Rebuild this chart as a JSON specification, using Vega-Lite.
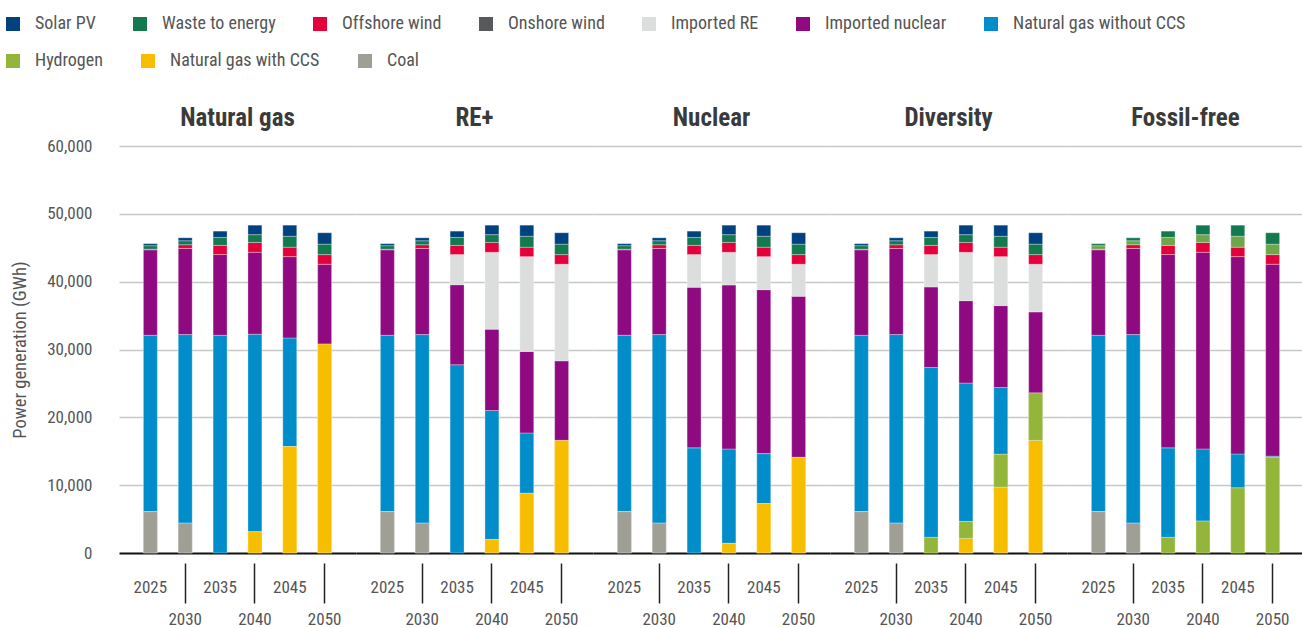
{
  "$schema": "https://vega.github.io/schema/vega-lite/v6.json",
  "padding": {"left": 4, "top": 15, "right": 0, "bottom": 0},
  "background": "white",
  "datasets": {
    "stackorder": [
      {"source": "Coal", "rank": 1},
      {"source": "Natural gas with CCS", "rank": 2},
      {"source": "Hydrogen", "rank": 3},
      {"source": "Natural gas without CCS", "rank": 4},
      {"source": "Imported nuclear", "rank": 5},
      {"source": "Imported RE", "rank": 6},
      {"source": "Onshore wind", "rank": 7},
      {"source": "Offshore wind", "rank": 8},
      {"source": "Waste to energy", "rank": 9},
      {"source": "Solar PV", "rank": 10}
    ],
    "gen": [
      {"scenario": "Natural gas", "year": "2025", "source": "Coal", "value": 6100},
      {"scenario": "Natural gas", "year": "2025", "source": "Natural gas without CCS", "value": 26000},
      {"scenario": "Natural gas", "year": "2025", "source": "Imported nuclear", "value": 12600},
      {"scenario": "Natural gas", "year": "2025", "source": "Onshore wind", "value": 80},
      {"scenario": "Natural gas", "year": "2025", "source": "Waste to energy", "value": 520},
      {"scenario": "Natural gas", "year": "2025", "source": "Solar PV", "value": 300},
      {"scenario": "Natural gas", "year": "2030", "source": "Coal", "value": 4400},
      {"scenario": "Natural gas", "year": "2030", "source": "Natural gas without CCS", "value": 27800},
      {"scenario": "Natural gas", "year": "2030", "source": "Imported nuclear", "value": 12700},
      {"scenario": "Natural gas", "year": "2030", "source": "Offshore wind", "value": 540},
      {"scenario": "Natural gas", "year": "2030", "source": "Waste to energy", "value": 590},
      {"scenario": "Natural gas", "year": "2030", "source": "Solar PV", "value": 440},
      {"scenario": "Natural gas", "year": "2035", "source": "Natural gas without CCS", "value": 32100},
      {"scenario": "Natural gas", "year": "2035", "source": "Imported nuclear", "value": 11900},
      {"scenario": "Natural gas", "year": "2035", "source": "Offshore wind", "value": 1340},
      {"scenario": "Natural gas", "year": "2035", "source": "Waste to energy", "value": 1180},
      {"scenario": "Natural gas", "year": "2035", "source": "Solar PV", "value": 930},
      {"scenario": "Natural gas", "year": "2040", "source": "Natural gas with CCS", "value": 3150},
      {"scenario": "Natural gas", "year": "2040", "source": "Natural gas without CCS", "value": 29100},
      {"scenario": "Natural gas", "year": "2040", "source": "Imported nuclear", "value": 12080},
      {"scenario": "Natural gas", "year": "2040", "source": "Offshore wind", "value": 1450},
      {"scenario": "Natural gas", "year": "2040", "source": "Waste to energy", "value": 1150},
      {"scenario": "Natural gas", "year": "2040", "source": "Solar PV", "value": 1400},
      {"scenario": "Natural gas", "year": "2045", "source": "Natural gas with CCS", "value": 15700},
      {"scenario": "Natural gas", "year": "2045", "source": "Natural gas without CCS", "value": 16000},
      {"scenario": "Natural gas", "year": "2045", "source": "Imported nuclear", "value": 11990},
      {"scenario": "Natural gas", "year": "2045", "source": "Offshore wind", "value": 1390},
      {"scenario": "Natural gas", "year": "2045", "source": "Waste to energy", "value": 1620},
      {"scenario": "Natural gas", "year": "2045", "source": "Solar PV", "value": 1630},
      {"scenario": "Natural gas", "year": "2050", "source": "Natural gas with CCS", "value": 30800},
      {"scenario": "Natural gas", "year": "2050", "source": "Imported nuclear", "value": 11770},
      {"scenario": "Natural gas", "year": "2050", "source": "Offshore wind", "value": 1420},
      {"scenario": "Natural gas", "year": "2050", "source": "Waste to energy", "value": 1540},
      {"scenario": "Natural gas", "year": "2050", "source": "Solar PV", "value": 1680},

      {"scenario": "RE+", "year": "2025", "source": "Coal", "value": 6100},
      {"scenario": "RE+", "year": "2025", "source": "Natural gas without CCS", "value": 26000},
      {"scenario": "RE+", "year": "2025", "source": "Imported nuclear", "value": 12600},
      {"scenario": "RE+", "year": "2025", "source": "Onshore wind", "value": 80},
      {"scenario": "RE+", "year": "2025", "source": "Waste to energy", "value": 520},
      {"scenario": "RE+", "year": "2025", "source": "Solar PV", "value": 300},
      {"scenario": "RE+", "year": "2030", "source": "Coal", "value": 4400},
      {"scenario": "RE+", "year": "2030", "source": "Natural gas without CCS", "value": 27800},
      {"scenario": "RE+", "year": "2030", "source": "Imported nuclear", "value": 12700},
      {"scenario": "RE+", "year": "2030", "source": "Offshore wind", "value": 540},
      {"scenario": "RE+", "year": "2030", "source": "Waste to energy", "value": 590},
      {"scenario": "RE+", "year": "2030", "source": "Solar PV", "value": 440},
      {"scenario": "RE+", "year": "2035", "source": "Natural gas without CCS", "value": 27750},
      {"scenario": "RE+", "year": "2035", "source": "Imported nuclear", "value": 11800},
      {"scenario": "RE+", "year": "2035", "source": "Imported RE", "value": 4450},
      {"scenario": "RE+", "year": "2035", "source": "Offshore wind", "value": 1340},
      {"scenario": "RE+", "year": "2035", "source": "Waste to energy", "value": 1180},
      {"scenario": "RE+", "year": "2035", "source": "Solar PV", "value": 930},
      {"scenario": "RE+", "year": "2040", "source": "Natural gas with CCS", "value": 2000},
      {"scenario": "RE+", "year": "2040", "source": "Natural gas without CCS", "value": 19000},
      {"scenario": "RE+", "year": "2040", "source": "Imported nuclear", "value": 12000},
      {"scenario": "RE+", "year": "2040", "source": "Imported RE", "value": 11330},
      {"scenario": "RE+", "year": "2040", "source": "Offshore wind", "value": 1450},
      {"scenario": "RE+", "year": "2040", "source": "Waste to energy", "value": 1150},
      {"scenario": "RE+", "year": "2040", "source": "Solar PV", "value": 1400},
      {"scenario": "RE+", "year": "2045", "source": "Natural gas with CCS", "value": 8800},
      {"scenario": "RE+", "year": "2045", "source": "Natural gas without CCS", "value": 8900},
      {"scenario": "RE+", "year": "2045", "source": "Imported nuclear", "value": 12000},
      {"scenario": "RE+", "year": "2045", "source": "Imported RE", "value": 13990},
      {"scenario": "RE+", "year": "2045", "source": "Offshore wind", "value": 1390},
      {"scenario": "RE+", "year": "2045", "source": "Waste to energy", "value": 1620},
      {"scenario": "RE+", "year": "2045", "source": "Solar PV", "value": 1630},
      {"scenario": "RE+", "year": "2050", "source": "Natural gas with CCS", "value": 16600},
      {"scenario": "RE+", "year": "2050", "source": "Imported nuclear", "value": 11730},
      {"scenario": "RE+", "year": "2050", "source": "Imported RE", "value": 14240},
      {"scenario": "RE+", "year": "2050", "source": "Offshore wind", "value": 1420},
      {"scenario": "RE+", "year": "2050", "source": "Waste to energy", "value": 1540},
      {"scenario": "RE+", "year": "2050", "source": "Solar PV", "value": 1680},

      {"scenario": "Nuclear", "year": "2025", "source": "Coal", "value": 6100},
      {"scenario": "Nuclear", "year": "2025", "source": "Natural gas without CCS", "value": 26000},
      {"scenario": "Nuclear", "year": "2025", "source": "Imported nuclear", "value": 12600},
      {"scenario": "Nuclear", "year": "2025", "source": "Onshore wind", "value": 80},
      {"scenario": "Nuclear", "year": "2025", "source": "Waste to energy", "value": 520},
      {"scenario": "Nuclear", "year": "2025", "source": "Solar PV", "value": 300},
      {"scenario": "Nuclear", "year": "2030", "source": "Coal", "value": 4400},
      {"scenario": "Nuclear", "year": "2030", "source": "Natural gas without CCS", "value": 27800},
      {"scenario": "Nuclear", "year": "2030", "source": "Imported nuclear", "value": 12700},
      {"scenario": "Nuclear", "year": "2030", "source": "Offshore wind", "value": 540},
      {"scenario": "Nuclear", "year": "2030", "source": "Waste to energy", "value": 590},
      {"scenario": "Nuclear", "year": "2030", "source": "Solar PV", "value": 440},
      {"scenario": "Nuclear", "year": "2035", "source": "Natural gas without CCS", "value": 15500},
      {"scenario": "Nuclear", "year": "2035", "source": "Imported nuclear", "value": 23670},
      {"scenario": "Nuclear", "year": "2035", "source": "Imported RE", "value": 4830},
      {"scenario": "Nuclear", "year": "2035", "source": "Offshore wind", "value": 1340},
      {"scenario": "Nuclear", "year": "2035", "source": "Waste to energy", "value": 1180},
      {"scenario": "Nuclear", "year": "2035", "source": "Solar PV", "value": 930},
      {"scenario": "Nuclear", "year": "2040", "source": "Natural gas with CCS", "value": 1420},
      {"scenario": "Nuclear", "year": "2040", "source": "Natural gas without CCS", "value": 13920},
      {"scenario": "Nuclear", "year": "2040", "source": "Imported nuclear", "value": 24170},
      {"scenario": "Nuclear", "year": "2040", "source": "Imported RE", "value": 4820},
      {"scenario": "Nuclear", "year": "2040", "source": "Offshore wind", "value": 1450},
      {"scenario": "Nuclear", "year": "2040", "source": "Waste to energy", "value": 1150},
      {"scenario": "Nuclear", "year": "2040", "source": "Solar PV", "value": 1400},
      {"scenario": "Nuclear", "year": "2045", "source": "Natural gas with CCS", "value": 7300},
      {"scenario": "Nuclear", "year": "2045", "source": "Natural gas without CCS", "value": 7350},
      {"scenario": "Nuclear", "year": "2045", "source": "Imported nuclear", "value": 24170},
      {"scenario": "Nuclear", "year": "2045", "source": "Imported RE", "value": 4870},
      {"scenario": "Nuclear", "year": "2045", "source": "Offshore wind", "value": 1390},
      {"scenario": "Nuclear", "year": "2045", "source": "Waste to energy", "value": 1620},
      {"scenario": "Nuclear", "year": "2045", "source": "Solar PV", "value": 1630},
      {"scenario": "Nuclear", "year": "2050", "source": "Natural gas with CCS", "value": 14100},
      {"scenario": "Nuclear", "year": "2050", "source": "Imported nuclear", "value": 23740},
      {"scenario": "Nuclear", "year": "2050", "source": "Imported RE", "value": 4730},
      {"scenario": "Nuclear", "year": "2050", "source": "Offshore wind", "value": 1420},
      {"scenario": "Nuclear", "year": "2050", "source": "Waste to energy", "value": 1540},
      {"scenario": "Nuclear", "year": "2050", "source": "Solar PV", "value": 1680},

      {"scenario": "Diversity", "year": "2025", "source": "Coal", "value": 6100},
      {"scenario": "Diversity", "year": "2025", "source": "Natural gas without CCS", "value": 26000},
      {"scenario": "Diversity", "year": "2025", "source": "Imported nuclear", "value": 12600},
      {"scenario": "Diversity", "year": "2025", "source": "Onshore wind", "value": 80},
      {"scenario": "Diversity", "year": "2025", "source": "Waste to energy", "value": 520},
      {"scenario": "Diversity", "year": "2025", "source": "Solar PV", "value": 300},
      {"scenario": "Diversity", "year": "2030", "source": "Coal", "value": 4400},
      {"scenario": "Diversity", "year": "2030", "source": "Natural gas without CCS", "value": 27800},
      {"scenario": "Diversity", "year": "2030", "source": "Imported nuclear", "value": 12700},
      {"scenario": "Diversity", "year": "2030", "source": "Offshore wind", "value": 540},
      {"scenario": "Diversity", "year": "2030", "source": "Waste to energy", "value": 590},
      {"scenario": "Diversity", "year": "2030", "source": "Solar PV", "value": 440},
      {"scenario": "Diversity", "year": "2035", "source": "Hydrogen", "value": 2300},
      {"scenario": "Diversity", "year": "2035", "source": "Natural gas without CCS", "value": 25050},
      {"scenario": "Diversity", "year": "2035", "source": "Imported nuclear", "value": 11870},
      {"scenario": "Diversity", "year": "2035", "source": "Imported RE", "value": 4780},
      {"scenario": "Diversity", "year": "2035", "source": "Offshore wind", "value": 1340},
      {"scenario": "Diversity", "year": "2035", "source": "Waste to energy", "value": 1180},
      {"scenario": "Diversity", "year": "2035", "source": "Solar PV", "value": 930},
      {"scenario": "Diversity", "year": "2040", "source": "Natural gas with CCS", "value": 2150},
      {"scenario": "Diversity", "year": "2040", "source": "Hydrogen", "value": 2500},
      {"scenario": "Diversity", "year": "2040", "source": "Natural gas without CCS", "value": 20400},
      {"scenario": "Diversity", "year": "2040", "source": "Imported nuclear", "value": 12150},
      {"scenario": "Diversity", "year": "2040", "source": "Imported RE", "value": 7130},
      {"scenario": "Diversity", "year": "2040", "source": "Offshore wind", "value": 1450},
      {"scenario": "Diversity", "year": "2040", "source": "Waste to energy", "value": 1150},
      {"scenario": "Diversity", "year": "2040", "source": "Solar PV", "value": 1400},
      {"scenario": "Diversity", "year": "2045", "source": "Natural gas with CCS", "value": 9700},
      {"scenario": "Diversity", "year": "2045", "source": "Hydrogen", "value": 4850},
      {"scenario": "Diversity", "year": "2045", "source": "Natural gas without CCS", "value": 9850},
      {"scenario": "Diversity", "year": "2045", "source": "Imported nuclear", "value": 12070},
      {"scenario": "Diversity", "year": "2045", "source": "Imported RE", "value": 7220},
      {"scenario": "Diversity", "year": "2045", "source": "Offshore wind", "value": 1390},
      {"scenario": "Diversity", "year": "2045", "source": "Waste to energy", "value": 1620},
      {"scenario": "Diversity", "year": "2045", "source": "Solar PV", "value": 1630},
      {"scenario": "Diversity", "year": "2050", "source": "Natural gas with CCS", "value": 16600},
      {"scenario": "Diversity", "year": "2050", "source": "Hydrogen", "value": 7000},
      {"scenario": "Diversity", "year": "2050", "source": "Imported nuclear", "value": 11940},
      {"scenario": "Diversity", "year": "2050", "source": "Imported RE", "value": 7030},
      {"scenario": "Diversity", "year": "2050", "source": "Offshore wind", "value": 1420},
      {"scenario": "Diversity", "year": "2050", "source": "Waste to energy", "value": 1540},
      {"scenario": "Diversity", "year": "2050", "source": "Solar PV", "value": 1680},

      {"scenario": "Fossil-free", "year": "2025", "source": "Coal", "value": 6100},
      {"scenario": "Fossil-free", "year": "2025", "source": "Natural gas without CCS", "value": 26000},
      {"scenario": "Fossil-free", "year": "2025", "source": "Imported nuclear", "value": 12600},
      {"scenario": "Fossil-free", "year": "2025", "source": "Onshore wind", "value": 80},
      {"scenario": "Fossil-free", "year": "2025", "source": "Waste to energy", "value": 520},
      {"scenario": "Fossil-free", "year": "2025", "source": "Solar PV", "value": 300},
      {"scenario": "Fossil-free", "year": "2030", "source": "Coal", "value": 4400},
      {"scenario": "Fossil-free", "year": "2030", "source": "Natural gas without CCS", "value": 27800},
      {"scenario": "Fossil-free", "year": "2030", "source": "Imported nuclear", "value": 12700},
      {"scenario": "Fossil-free", "year": "2030", "source": "Offshore wind", "value": 540},
      {"scenario": "Fossil-free", "year": "2030", "source": "Waste to energy", "value": 590},
      {"scenario": "Fossil-free", "year": "2030", "source": "Solar PV", "value": 440},
      {"scenario": "Fossil-free", "year": "2035", "source": "Hydrogen", "value": 2300},
      {"scenario": "Fossil-free", "year": "2035", "source": "Natural gas without CCS", "value": 13200},
      {"scenario": "Fossil-free", "year": "2035", "source": "Imported nuclear", "value": 28500},
      {"scenario": "Fossil-free", "year": "2035", "source": "Offshore wind", "value": 1340},
      {"scenario": "Fossil-free", "year": "2035", "source": "Waste to energy", "value": 1180},
      {"scenario": "Fossil-free", "year": "2035", "source": "Solar PV", "value": 930},
      {"scenario": "Fossil-free", "year": "2040", "source": "Hydrogen", "value": 4700},
      {"scenario": "Fossil-free", "year": "2040", "source": "Natural gas without CCS", "value": 10640},
      {"scenario": "Fossil-free", "year": "2040", "source": "Imported nuclear", "value": 28990},
      {"scenario": "Fossil-free", "year": "2040", "source": "Offshore wind", "value": 1450},
      {"scenario": "Fossil-free", "year": "2040", "source": "Waste to energy", "value": 1150},
      {"scenario": "Fossil-free", "year": "2040", "source": "Solar PV", "value": 1400},
      {"scenario": "Fossil-free", "year": "2045", "source": "Hydrogen", "value": 9600},
      {"scenario": "Fossil-free", "year": "2045", "source": "Natural gas without CCS", "value": 5000},
      {"scenario": "Fossil-free", "year": "2045", "source": "Imported nuclear", "value": 29090},
      {"scenario": "Fossil-free", "year": "2045", "source": "Offshore wind", "value": 1390},
      {"scenario": "Fossil-free", "year": "2045", "source": "Waste to energy", "value": 1620},
      {"scenario": "Fossil-free", "year": "2045", "source": "Solar PV", "value": 1630},
      {"scenario": "Fossil-free", "year": "2050", "source": "Hydrogen", "value": 14100},
      {"scenario": "Fossil-free", "year": "2050", "source": "Natural gas without CCS", "value": 170},
      {"scenario": "Fossil-free", "year": "2050", "source": "Imported nuclear", "value": 28300},
      {"scenario": "Fossil-free", "year": "2050", "source": "Offshore wind", "value": 1420},
      {"scenario": "Fossil-free", "year": "2050", "source": "Waste to energy", "value": 1540},
      {"scenario": "Fossil-free", "year": "2050", "source": "Solar PV", "value": 1680}
    ]
  },
  "data": {"name": "gen"},
  "transform": [
    {"lookup": "source", "from": {"data": {"name": "stackorder"}, "key": "source", "fields": ["rank"]}}
  ],
  "facet": {
    "column": {
      "field": "scenario",
      "type": "nominal",
      "sort": ["Natural gas", "RE+", "Nuclear", "Diversity", "Fossil-free"],
      "title": null,
      "header": {
        "labelFont": "Roboto Condensed, Liberation Sans Narrow, Roboto, sans-serif",
        "labelFontSize": 25,
        "labelFontWeight": "bold",
        "labelColor": "#3a3a3a",
        "labelPadding": 15
      }
    }
  },
  "spacing": 0,
  "spec": {
    "width": 237,
    "height": 407,
    "encoding": {
      "x": {
        "field": "year",
        "type": "ordinal",
        "scale": {"paddingInner": 0.6, "paddingOuter": 0.7},
        "axis": {
          "title": null,
          "domain": false,
          "offset": 9,
          "tickSize": 40,
          "tickColor": "#222222",
          "tickWidth": 1.5,
          "tickOpacity": {"condition": {"test": "datum.value == '2030' || datum.value == '2040' || datum.value == '2050'", "value": 1}, "value": 0},
          "labelAngle": 0,
          "labelPadding": -24,
          "labelFont": "Roboto Condensed, Liberation Sans Narrow, Roboto, sans-serif",
          "labelFontSize": 17,
          "labelColor": "#555555",
          "labelLineHeight": 32,
          "labelExpr": "(datum.value == '2030' || datum.value == '2040' || datum.value == '2050') ? ['', datum.value] : datum.value"
        }
      },
      "y": {
        "field": "value",
        "type": "quantitative",
        "stack": "zero",
        "scale": {"domain": [0, 60000], "nice": false},
        "axis": {
          "title": "Power generation (GWh)",
          "titleFont": "Roboto Condensed, Liberation Sans Narrow, Roboto, sans-serif",
          "titleFontSize": 18.5,
          "titleFontWeight": "normal",
          "titleColor": "#555555",
          "titlePadding": 17,
          "values": [0, 10000, 20000, 30000, 40000, 50000, 60000],
          "format": ",.0f",
          "domain": false,
          "ticks": false,
          "labelPadding": 27,
          "labelFont": "Roboto Condensed, Liberation Sans Narrow, Roboto, sans-serif",
          "labelFontSize": 17,
          "labelColor": "#555555",
          "gridColor": {"condition": {"test": "datum.value == 0", "value": "#111111"}, "value": "#c8c8c8"},
          "gridWidth": {"condition": {"test": "datum.value == 0", "value": 2}, "value": 1.5}
        }
      },
      "order": {"field": "rank", "type": "quantitative", "sort": "ascending"}
    },
    "layer": [
      {
        "mark": {"type": "bar", "stroke": "#ffffff", "strokeWidth": 0.6, "strokeOpacity": 0.5},
        "encoding": {
          "color": {
            "condition": [
              {"test": "datum.scenario == 'Fossil-free' && datum.source == 'Solar PV'", "value": "#137a4f"},
              {"test": "datum.scenario == 'Fossil-free' && datum.source == 'Waste to energy'", "value": "#6ea64a"}
            ],
            "field": "source",
            "type": "nominal",
            "scale": {
              "domain": ["Solar PV", "Waste to energy", "Offshore wind", "Onshore wind", "Imported RE", "Imported nuclear", "Natural gas without CCS", "Hydrogen", "Natural gas with CCS", "Coal"],
              "range": ["#00427f", "#137a4f", "#e4003b", "#58595b", "#dcdddd", "#8f0a80", "#008dc9", "#93b53a", "#f7be00", "#a09f96"]
            },
            "legend": {
              "title": null,
              "orient": "none",
              "legendX": -115,
              "legendY": -131,
              "direction": "horizontal",
              "columns": 7,
              "values": ["Solar PV", "Waste to energy", "Offshore wind", "Onshore wind", "Imported RE", "Imported nuclear", "Natural gas without CCS"],
              "symbolType": "square",
              "symbolSize": 196,
              "symbolStrokeWidth": 0,
              "symbolOpacity": 1,
              "labelFont": "Roboto Condensed, Liberation Sans Narrow, Roboto, sans-serif",
              "labelFontSize": 18,
              "labelColor": "#555555",
              "labelOffset": 13,
              "labelLimit": 300,
              "columnPadding": 35
            }
          }
        }
      },
      {
        "transform": [{"filter": {"field": "source", "oneOf": ["Coal", "Natural gas with CCS", "Hydrogen"]}}],
        "mark": {"type": "bar", "stroke": "#ffffff", "strokeWidth": 0.6, "strokeOpacity": 0.5},
        "encoding": {
          "fill": {
            "field": "source",
            "type": "nominal",
            "scale": {
              "domain": ["Hydrogen", "Natural gas with CCS", "Coal"],
              "range": ["#93b53a", "#f7be00", "#a09f96"]
            },
            "legend": {
              "title": null,
              "orient": "none",
              "legendX": -115,
              "legendY": -94,
              "direction": "horizontal",
              "columns": 3,
              "symbolType": "square",
              "symbolSize": 196,
              "symbolStrokeWidth": 0,
              "symbolOpacity": 1,
              "labelFont": "Roboto Condensed, Liberation Sans Narrow, Roboto, sans-serif",
              "labelFontSize": 18,
              "labelColor": "#555555",
              "labelOffset": 13,
              "labelLimit": 300,
              "columnPadding": 36
            }
          }
        }
      }
    ]
  },
  "config": {
    "view": {"stroke": null},
    "axis": {"labelFont": "Roboto Condensed, Liberation Sans Narrow, Roboto, sans-serif"}
  }
}
